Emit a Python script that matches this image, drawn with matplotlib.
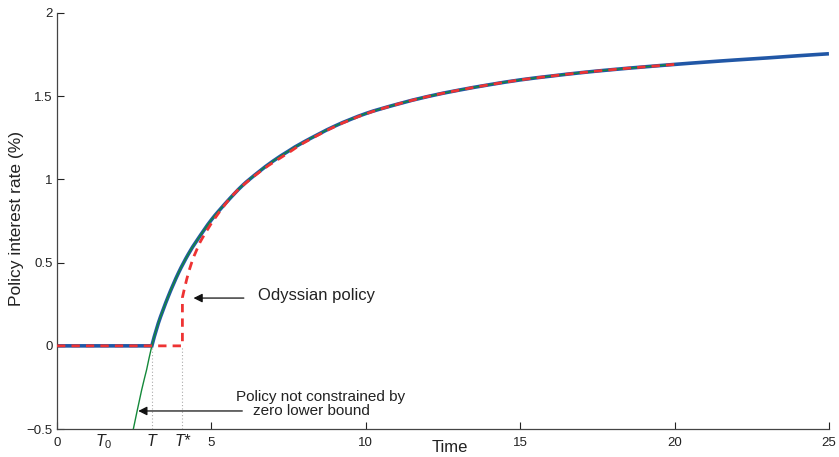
import numpy as np
import matplotlib.pyplot as plt
from matplotlib.path import Path
from matplotlib.patches import PathPatch

plt.rcParams['font.family'] = ['Liberation Sans', 'DejaVu Sans']
plt.rcParams['mathtext.fontset'] = 'custom'
plt.rcParams['mathtext.rm'] = 'Liberation Sans'
plt.rcParams['mathtext.it'] = 'Liberation Sans:italic'

# policy path
t_policy = [0, 3.07, 3.28, 3.6, 3.93, 4.25, 4.55, 5.0, 5.5, 6.0, 6.5, 7.0, 7.5, 8.0,
            9.0, 10.0, 11.0, 12.0, 13.0, 14.0, 15.0, 16.0, 17.0, 18.0, 19.0, 20.0,
            21.0, 22.0, 23.0, 24.0, 25.0]
r_policy = [0, 0, 0.136, 0.296, 0.437, 0.55, 0.638, 0.757, 0.865, 0.962, 1.04, 1.11,
            1.17, 1.225, 1.32, 1.395, 1.45, 1.497, 1.535, 1.568, 1.597, 1.62, 1.641,
            1.659, 1.675, 1.69, 1.704, 1.717, 1.729, 1.742, 1.754]

# unconstrained policy, below the zero bound
t_free_low = [2.47, 2.74, 2.90]
r_free_low = [-0.5, -0.265, -0.144]

# Odyssian policy
t_ody = [0, 4.06, 4.06, 4.2, 4.36, 4.52, 4.7, 5.12, 5.76, 6.63, 7.5, 8.0, 9.0, 10.0,
         11.0, 12.0, 13.0, 14.0, 15.0, 16.0, 17.0, 18.0, 19.0, 20.0]
r_ody = [0, 0, 0.29, 0.40, 0.50, 0.575, 0.645, 0.768, 0.918, 1.054, 1.16, 1.22, 1.317,
         1.393, 1.45, 1.497, 1.535, 1.568, 1.597, 1.62, 1.641, 1.659, 1.675, 1.69]

T0, T, Tstar = 1.52, 3.07, 4.06


def curve_path(xs, ys, n_straight):
    # first n_straight points joined by straight lines, the rest by a smooth curve
    pts = np.column_stack([xs, ys]).astype(float)
    verts = [pts[0]]
    codes = [Path.MOVETO]
    for p in pts[1:n_straight]:
        verts.append(p)
        codes.append(Path.LINETO)
    sm = pts[n_straight - 1:]
    n = len(sm)
    for i in range(n - 1):
        p0 = sm[i - 1] if i > 0 else sm[i]
        p1, p2 = sm[i], sm[i + 1]
        p3 = sm[i + 2] if i + 2 < n else sm[i + 1]
        verts += [p1 + (p2 - p0) / 6, p2 - (p3 - p1) / 6, p2]
        codes += [Path.CURVE4] * 3
    return Path(verts, codes)


fig = plt.figure(figsize=(8.39, 4.57), dpi=100)
ax = fig.add_axes([0.068, 0.061, 0.920, 0.911])

# green: policy not constrained by ZLB, up to t=20
t_green = t_free_low + [t for t in t_policy if 3.0 < t <= 20]
r_green = r_free_low + [r for t, r in zip(t_policy, r_policy) if 3.0 < t <= 20]

ax.add_patch(PathPatch(curve_path(t_policy, r_policy, 2), fill=False,
                       edgecolor='#2157a6', lw=2.6, capstyle='butt', zorder=2))
ax.add_patch(PathPatch(curve_path(t_green, r_green, 1), fill=False,
                       edgecolor='#14893a', lw=1.0, zorder=3))
ax.add_patch(PathPatch(curve_path(t_ody, r_ody, 3), fill=False,
                       edgecolor='#ee3333', lw=2.0, ls=(0, (3, 2.2)), zorder=4))

for x in (T, Tstar):
    ax.plot([x, x], [-0.5, 0], color='#aaaaaa', lw=0.8, ls=(0, (1, 2)), zorder=1)

ax.set_xlim(0, 25)
ax.set_ylim(-0.5, 2)
ax.set_xticks([0, 5, 10, 15, 20, 25])
ax.set_yticks([-0.5, 0, 0.5, 1, 1.5, 2])
ax.set_yticklabels(['\u22120.5', '0', '0.5', '1', '1.5', '2'])
ax.tick_params(direction='in', length=5, width=0.8, labelsize=9.5, colors='#222222')
ax.tick_params(axis='x', pad=6)
ax.tick_params(axis='y', pad=3)
for s in ('top', 'right'):
    ax.spines[s].set_visible(False)
for s in ('left', 'bottom'):
    ax.spines[s].set_color('#444444')
    ax.spines[s].set_linewidth(0.9)

tr = ax.get_xaxis_transform()
ax.text(T0, -0.029, '$T_{\\mathrm{0}}$', transform=tr, ha='center', va='center',
        fontsize=11.5, color='#222222')
ax.text(T, -0.029, 'T', style='italic', transform=tr, ha='center', va='center',
        fontsize=11.5, color='#222222')
ax.text(Tstar, -0.029, 'T*', style='italic', transform=tr, ha='center', va='center',
        fontsize=11.5, color='#222222')

ax.text(0.509, -0.043, 'Time', transform=ax.transAxes, ha='center', va='center',
        fontsize=12, color='#222222')
ax.text(-0.052, 0.505, 'Policy interest rate (%)', transform=ax.transAxes,
        rotation=90, ha='center', va='center', fontsize=12.5, color='#222222')

arrow = dict(arrowstyle='-|>', color='#111111', lw=0.9, mutation_scale=13,
             shrinkA=0, shrinkB=0)
ax.annotate('', xy=(4.42, 0.287), xytext=(6.05, 0.287), arrowprops=arrow)
ax.text(6.51, 0.30, 'Odyssian policy', fontsize=12, va='center', ha='left',
        color='#222222')
ax.annotate('', xy=(2.63, -0.391), xytext=(6.0, -0.391), arrowprops=arrow)
ax.text(5.81, -0.305, 'Policy not constrained by', fontsize=11, va='center',
        ha='left', color='#222222')
ax.text(6.35, -0.394, 'zero lower bound', fontsize=11, va='center', ha='left',
        color='#222222')

fig.savefig('out.png', dpi=100)
